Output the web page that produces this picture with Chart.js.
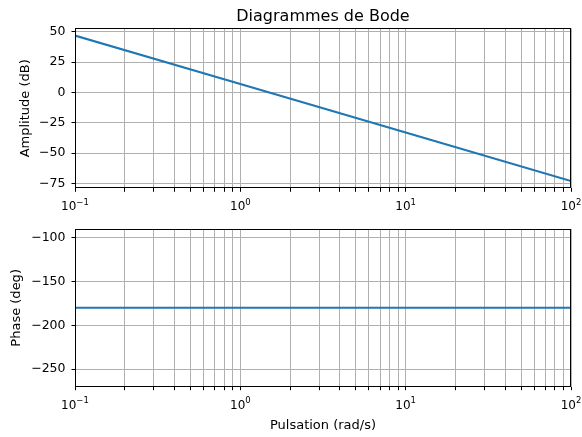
<!DOCTYPE html>
<html>
<head>
<meta charset="utf-8">
<script src="https://cdn.jsdelivr.net/npm/chart.js@4/dist/chart.umd.min.js"></script>
<style>
    body { margin: 0; background: #fff; }
    #wrap { position: relative; width: 582px; height: 437px; }
    canvas { position: absolute; left: 0; }
</style>
</head>
<body>
<div id="wrap">
    <canvas id="ampChart" width="582" height="215" style="top:0"></canvas>
    <canvas id="phaseChart" width="582" height="222" style="top:215px"></canvas>
</div>
<script>
// values
const omega = [0.1, 1, 10, 100];              // rad/s
const amplitudeDb = [47, 7, -33, -73];         // dB, -40 dB/decade
const phaseDeg = [-180, -180, -180, -180];     // deg
const xTicks = [0.1, 0.2, 0.3, 0.4, 0.5, 0.6, 0.7, 0.8, 0.9,
    1, 2, 3, 4, 5, 6, 7, 8, 9,
    10, 20, 30, 40, 50, 60, 70, 80, 90, 100];
const xMajorTicks = [0.1, 1, 10, 100];
const xMajorExponents = ['\u22121', '0', '1', '2'];
const ampTicks = [-75, -50, -25, 0, 25, 50];
const phaseTicks = [-250, -200, -150, -100];

Chart.defaults.font.family = 'DejaVu Sans';
Chart.defaults.color = '#000';

// black frame, figure title and the 10^n labels (drawn like matplotlib mathtext)
const frame = {
    id: 'frame',
    afterDraw: function (chart, args, pluginOpts) {
        const a = chart.chartArea;
        const ctx = chart.ctx;
        ctx.save();
        ctx.strokeStyle = '#000';
        ctx.lineWidth = 1;
        ctx.strokeRect(Math.round(a.left) + 0.5, Math.round(a.top) + 0.5,
            Math.round(a.right - a.left) - 1, Math.round(a.bottom - a.top) - 1);

        ctx.fillStyle = '#000';
        ctx.textBaseline = 'alphabetic';
        if (pluginOpts.title) {
            ctx.font = '16px "DejaVu Sans"';
            ctx.textAlign = 'center';
            ctx.fillText(pluginOpts.title, (a.left + a.right) / 2, 20.5);
        }

        const xScale = chart.scales.x;
        const base = a.bottom + 22;
        ctx.textAlign = 'left';
        xMajorTicks.forEach(function (v, i) {
            ctx.font = '12px "DejaVu Sans"';
            const wBase = ctx.measureText('10').width;
            ctx.font = '8.5px "DejaVu Sans"';
            const wExp = ctx.measureText(xMajorExponents[i]).width;
            const x0 = xScale.getPixelForValue(v) - (wBase + wExp) / 2;
            ctx.font = '12px "DejaVu Sans"';
            ctx.fillText('10', x0, base);
            ctx.font = '8.5px "DejaVu Sans"';
            ctx.fillText(xMajorExponents[i], x0 + wBase, base - 5.5);
        });
        ctx.restore();
    }
};

function minus(v) {
    return String(v).replace('-', '\u2212');
}

function makeChart(id, values, yTicks, yMin, yMax, yTitle, opts) {
    const points = omega.map((w, i) => ({x: w, y: values[i]}));
    return new Chart(document.getElementById(id), {
        type: 'line',
        data: {
            datasets: [{
                data: points,
                borderColor: '#1f77b4',
                borderWidth: opts.lineWidth,
                pointRadius: 0,
                tension: 0,
                fill: false
            }]
        },
        options: {
            responsive: false,
            animation: false,
            devicePixelRatio: 1,
            layout: {padding: {left: 0, right: 11, top: opts.padTop, bottom: 0}},
            plugins: {
                legend: {display: false},
                tooltip: {enabled: false},
                title: {display: false},
                frame: {title: opts.title}
            },
            scales: {
                x: {
                    type: 'logarithmic',
                    min: 0.1,
                    max: 100,
                    afterBuildTicks: function (scale) {
                        scale.ticks = xTicks.map(v => ({value: v}));
                    },
                    afterFit: function (scale) {
                        scale.height = opts.xHeight;
                        scale.paddingLeft = 0;
                        scale.paddingRight = 0;
                    },
                    ticks: {
                        autoSkip: false,
                        maxRotation: 0,
                        padding: 5,
                        font: {size: 12},
                        callback: function () {
                            return '';
                        }
                    },
                    grid: {color: '#b0b0b0', lineWidth: 1, tickColor: '#000', tickLength: 3.5},
                    border: {display: false},
                    title: opts.xTitle ? {
                        display: true,
                        text: opts.xTitle,
                        font: {size: 13},
                        padding: {top: 0, bottom: 3.2}
                    } : {display: false}
                },
                y: {
                    min: yMin,
                    max: yMax,
                    afterBuildTicks: function (scale) {
                        scale.ticks = yTicks.map(v => ({value: v}));
                    },
                    afterFit: function (scale) {
                        scale.width = 75;
                        scale.paddingTop = 0;
                        scale.paddingBottom = 0;
                    },
                    ticks: {
                        padding: 6,
                        font: {size: 12.5},
                        callback: function (value) {
                            return minus(value);
                        }
                    },
                    grid: {color: '#b0b0b0', lineWidth: 1, tickColor: '#000', tickLength: 3.5},
                    border: {display: false},
                    title: {
                        display: true,
                        text: yTitle,
                        font: {size: 13},
                        padding: {top: opts.yTitlePad, bottom: 0}
                    }
                }
            }
        },
        plugins: [frame]
    });
}

makeChart('ampChart', amplitudeDb, ampTicks, -79, 53, 'Amplitude (dB)', {
    title: 'Diagrammes de Bode', padTop: 28.3, xHeight: 26.7, yTitlePad: 18.2, lineWidth: 2.2
});
makeChart('phaseChart', phaseDeg, phaseTicks, -270, -90, 'Phase (deg)', {
    padTop: 14, xHeight: 50.3, yTitlePad: 9.2, lineWidth: 2, xTitle: 'Pulsation (rad/s)'
});
</script>
</body>
</html>
